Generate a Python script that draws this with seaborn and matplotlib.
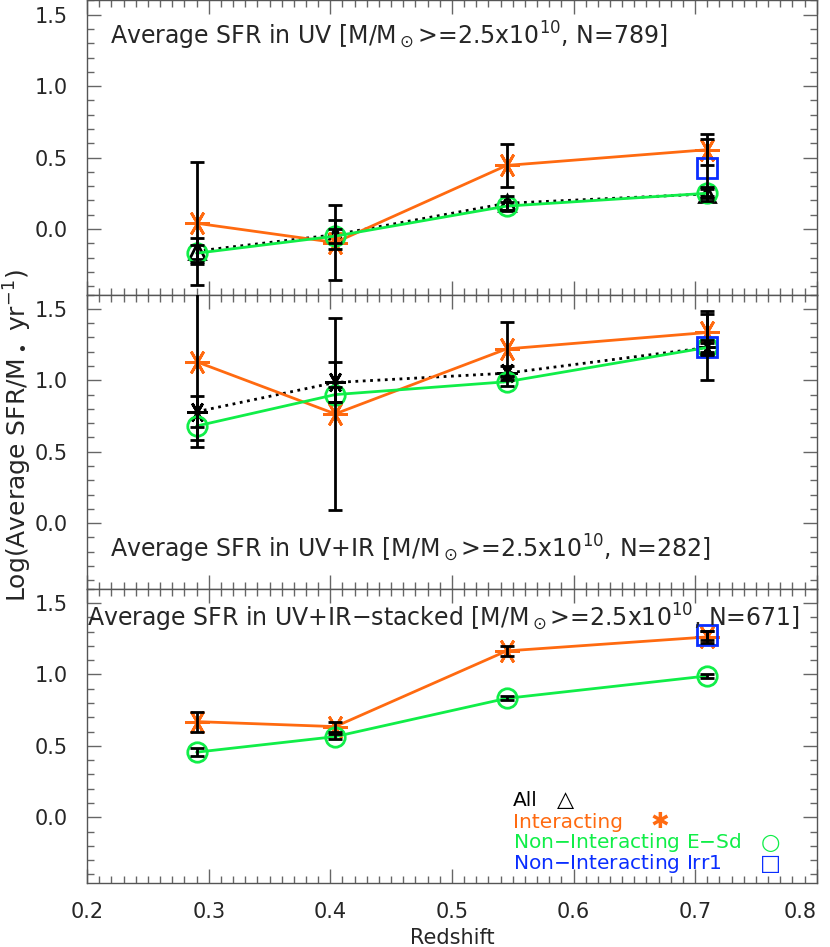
import numpy as np
import pandas as pd
import matplotlib
matplotlib.use("Agg")
import matplotlib.pyplot as plt
import seaborn as sns
from matplotlib.ticker import MultipleLocator, FormatStrFormatter

# redshift bins
z = [0.29, 0.404, 0.545, 0.71]
z_irr = [0.71]

# panel 1: UV
all_uv = [-0.155, -0.04, 0.18, 0.245]
all_uv_err = [0.09, 0.10, 0.05, 0.05]
int_uv = [0.04, -0.095, 0.445, 0.555]
int_uv_err = [0.43, 0.265, 0.15, 0.11]
non_uv = [-0.17, -0.05, 0.16, 0.25]
non_uv_err = [0.06, 0.05, 0.03, 0.03]
irr_uv = [0.43]
irr_uv_err = [0.20]

# panel 2: UV+IR
all_uvir = [0.78, 0.985, 1.05, 1.23]
all_uvir_err = [0.11, 0.14, 0.05, 0.05]
int_uvir = [1.13, 0.765, 1.22, 1.335]
int_uvir_err = [0.60, 0.67, 0.19, 0.15]
non_uvir = [0.68, 0.90, 0.99, 1.23]
non_uvir_err = [0.10, 0.05, 0.03, 0.03]
irr_uvir = [1.235]
irr_uvir_err = [0.23]

# panel 3: UV+IR stacked
int_st = [0.67, 0.635, 1.165, 1.263]
int_st_err = [0.07, 0.035, 0.035, 0.04]
non_st = [0.456, 0.565, 0.833, 0.99]
non_st_err = [0.03, 0.02, 0.015, 0.015]
irr_st = [1.275]
irr_st_err = [0.03]

titles = [r"Average SFR in UV [M/M$_\odot$>=2.5x10$^{10}$, N=789]",
          r"Average SFR in UV+IR [M/M$_\odot$>=2.5x10$^{10}$, N=282]",
          r"Average SFR in UV+IR$-$stacked [M/M$_\odot$>=2.5x10$^{10}$, N=671]"]

ORANGE = '#ff6a10'
GREEN = '#10ee48'
BLUE = '#0a2eff'
STAR = (6, 2, 90)

sns.set_style("ticks")
plt.rcParams['font.family'] = ['DejaVu Sans']

fig, axes = plt.subplots(3, 1, figsize=(8.3, 9.47), dpi=100, sharex=True)
fig.subplots_adjust(left=0.105, right=0.984, top=0.9995, bottom=0.0676, hspace=0)


def draw(ax, vals, errs, color, marker, ms, ls='-', mfc=None, line=True, xs=z):
    df = pd.DataFrame({'z': xs, 'v': vals})
    kw = dict(color=color, marker=marker, markersize=ms, markeredgecolor=color,
              markeredgewidth=2, linewidth=2 if line else 0, linestyle=ls,
              markerfacecolor=mfc if mfc else color)
    sns.lineplot(data=df, x='z', y='v', ax=ax, zorder=3, **kw)
    ax.errorbar(xs, vals, yerr=errs, fmt='none', ecolor='black', elinewidth=2,
                capsize=5, capthick=2, zorder=4)


# panel 1
ax = axes[0]
draw(ax, all_uv, all_uv_err, 'black', '^', 11, ls=':', mfc='none')
draw(ax, int_uv, int_uv_err, ORANGE, STAR, 18)
draw(ax, non_uv, non_uv_err, GREEN, 'o', 14, mfc='none')
draw(ax, irr_uv, irr_uv_err, BLUE, 's', 15, mfc='none', line=False, xs=z_irr)

# panel 2
ax = axes[1]
draw(ax, all_uvir, all_uvir_err, 'black', STAR, 15, ls=':')
draw(ax, int_uvir, int_uvir_err, ORANGE, STAR, 18)
draw(ax, non_uvir, non_uvir_err, GREEN, 'o', 14, mfc='none')
draw(ax, irr_uvir, irr_uvir_err, BLUE, 's', 15, mfc='none', line=False, xs=z_irr)

# panel 3
ax = axes[2]
draw(ax, int_st, int_st_err, ORANGE, STAR, 18)
draw(ax, non_st, non_st_err, GREEN, 'o', 14, mfc='none')
draw(ax, irr_st, irr_st_err, BLUE, 's', 15, mfc='none', line=False, xs=z_irr)

title_pos = [(0.031, 0.88), (0.031, 0.136), (0.0, 0.90)]
for ax, t, (tx, ty) in zip(axes, titles, title_pos):
    ax.set_xlim(0.2, 0.8)
    ax.set_ylim(-0.46, 1.6)
    ax.set_xlabel('')
    ax.set_ylabel('')
    ax.xaxis.set_major_locator(MultipleLocator(0.1))
    ax.xaxis.set_minor_locator(MultipleLocator(0.01))
    ax.yaxis.set_major_locator(MultipleLocator(0.5))
    ax.yaxis.set_minor_locator(MultipleLocator(0.1))
    ax.yaxis.set_major_formatter(FormatStrFormatter('%.1f'))
    ax.xaxis.set_major_formatter(FormatStrFormatter('%.1f'))
    ax.tick_params(which='both', direction='in', top=True, right=True,
                   color='#666666', labelsize=15, pad=14)
    ax.tick_params(which='major', length=10, width=1)
    ax.tick_params(which='minor', length=5, width=1)
    for s in ax.spines.values():
        s.set_color('#555555')
        s.set_linewidth(1)
    ax.text(tx, ty, t, transform=ax.transAxes, fontsize=17, va='center', ha='left')

axes[2].set_xlabel('Redshift', fontsize=15, labelpad=4)
fig.text(0.021, 0.54, r"Log(Average SFR/M$_\bullet$ yr$^{-1}$)", rotation=90,
         va='center', ha='center', fontsize=18)

# legend in the bottom panel
ax = axes[2]
leg = [("All", 'black', 0.282, "\u25b3", 0.655),
       ("Interacting", ORANGE, 0.207, "\u2731", 0.785),
       ("Non$-$Interacting E$-$Sd", GREEN, 0.136, "\u25cb", 0.936),
       ("Non$-$Interacting Irr1", BLUE, 0.065, "\u25a1", 0.936)]
for label, c, ly, sym, sx in leg:
    ax.text(0.584, ly, label, color=c, fontsize=14.5, transform=ax.transAxes,
            va='center', ha='left')
    ax.text(sx, ly, sym, color=c, fontsize=16, transform=ax.transAxes,
            va='center', ha='center')

# keep the last x tick label inside the figure
fig.canvas.draw()
for tick in axes[2].xaxis.get_major_ticks():
    if abs(tick.get_loc() - 0.8) < 1e-6:
        tick.label1.set_horizontalalignment('right')
        tick.label1.set_x(tick.label1.get_position()[0])

fig.savefig('out.png', dpi=100)
